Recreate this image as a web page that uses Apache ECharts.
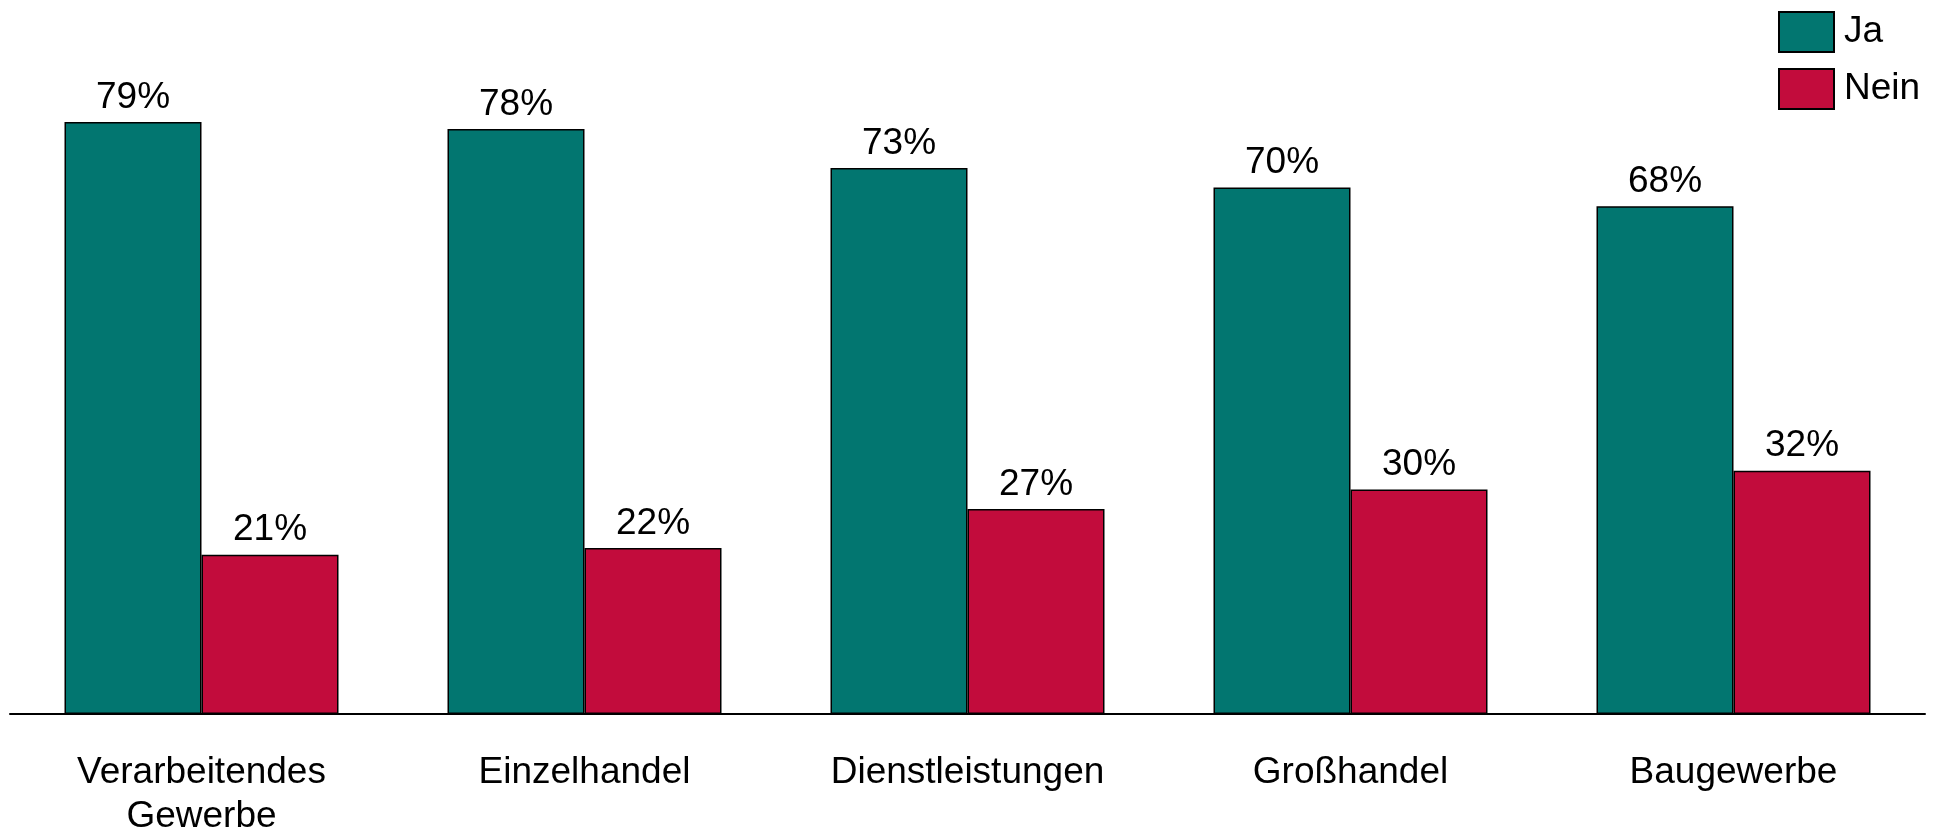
<!DOCTYPE html>
<html>
<head>
<meta charset="utf-8">
<script src="https://cdn.jsdelivr.net/npm/echarts@6/dist/echarts.min.js"></script>
<style>
  html, body { margin: 0; padding: 0; background: #fff; overflow: hidden; width: 1933px; height: 839px; }
  #chart { position: absolute; left: 0; top: 0; width: 1933px; height: 839px; }
</style>
</head>
<body>
<div id="chart"></div>
<script>
  // Daten
  var categories = ['Verarbeitendes\nGewerbe', 'Einzelhandel', 'Dienstleistungen', 'Großhandel', 'Baugewerbe']
  var jaValues = [78.8, 77.9, 72.7, 70.1, 67.6]
  var neinValues = [21.2, 22.1, 27.3, 29.9, 32.4]

  var font = '"Liberation Sans", Arial, sans-serif'
  var labelStyle = {
    show: true,
    position: 'top',
    distance: 6,
    color: '#000',
    fontSize: 37,
    fontFamily: font,
    formatter: function (p) { return Math.round(p.value) + '%' }
  }

  var chart = echarts.init(document.getElementById('chart'))
  var option = {
    animation: false,
    color: ['#027670', '#C20C3C'],
    legend: {
      orient: 'vertical',
      left: 1773,
      top: 6,
      itemWidth: 55,
      itemHeight: 40,
      itemGap: 15,
      icon: 'rect',
      itemStyle: { borderColor: '#000', borderWidth: 2 },
      textStyle: { fontSize: 37, lineHeight: 40, fontFamily: font, color: '#000', padding: [0, 0, 0, 5] },
      data: ['Ja', 'Nein']
    },
    grid: {
      left: 10,
      right: 8,
      top: 38,
      bottom: 120,
      containLabel: false
    },
    xAxis: {
      type: 'category',
      data: categories,
      axisLine: { lineStyle: { color: '#000', width: 2 } },
      axisTick: { show: false },
      axisLabel: {
        interval: 0,
        margin: 37,
        color: '#000',
        fontSize: 37,
        lineHeight: 44,
        fontFamily: font
      }
    },
    yAxis: {
      type: 'value',
      min: 0,
      max: 90,
      show: false,
      splitLine: { show: false }
    },
    series: [
      {
        name: 'Ja',
        type: 'bar',
        barWidth: 137,
        barGap: '0%',
        itemStyle: { borderColor: '#000', borderWidth: 1.5 },
        label: labelStyle,
        data: jaValues
      },
      {
        name: 'Nein',
        type: 'bar',
        barWidth: 137,
        barGap: '0%',
        itemStyle: { borderColor: '#000', borderWidth: 1.5 },
        label: labelStyle,
        data: neinValues
      }
    ]
  }
  chart.setOption(option)
</script>
</body>
</html>
